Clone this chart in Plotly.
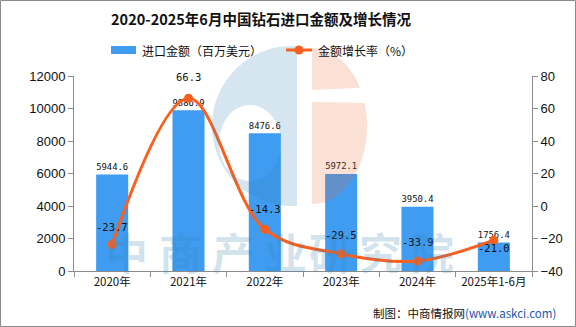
import numpy as np
import plotly.graph_objects as go

# ---- data ----
categories = ["2020年", "2021年", "2022年", "2023年", "2024年", "2025年1-6月"]
import_value = [5944.6, 9886.9, 8476.6, 5972.1, 3950.4, 1756.4]   # 百万美元
growth_rate = [-23.7, 66.3, -14.3, -29.5, -33.9, -21.0]           # %

# ---- layout geometry (pixels) ----
W, H = 576, 327
ML, MR, MT, MB = 74, 44, 76, 56
PW, PH = W - ML - MR, H - MT - MB

BAR_COLOR = "#3F9CF1"
LINE_COLOR = "#FA5F1E"
AXIS_COLOR = "#8C8C8C"
CJK = "Noto Sans CJK SC"


def px(x):
    return (x - ML) / PW


def py(y):
    return (H - MB - y) / PH


def path_from(points):
    pts = [f"{px(x):.5f},{py(y):.5f}" for x, y in points]
    return "M" + " L".join(pts) + " Z"


fig = go.Figure()

fig.add_trace(go.Bar(
    x=categories, y=import_value, name="进口金额（百万美元）",
    marker=dict(color=BAR_COLOR, line=dict(width=0)),
    texttemplate="%{y:.1f}", textposition="outside", cliponaxis=False,
    textfont=dict(family="DejaVu Sans Mono", size=10.5, color="#111"),
    yaxis="y", showlegend=False,
))

fig.add_trace(go.Scatter(
    x=categories, y=growth_rate, name="金额增长率（%）",
    mode="lines+markers",
    line=dict(color=LINE_COLOR, width=3, shape="spline", smoothing=1.0),
    marker=dict(color=LINE_COLOR, size=9),
    yaxis="y2", showlegend=False, cliponaxis=False,
))

# growth-rate labels, offset from their markers
label_shift = [18, 21, 20, 19, 19, -8]
annotations = []
for c, v, s in zip(categories, growth_rate, label_shift):
    annotations.append(dict(
        x=c, y=v, xref="x", yref="y2", yshift=s, text=f"{v:.1f}",
        showarrow=False, font=dict(family="DejaVu Sans Mono", size=10.5, color="#111"),
    ))

# watermark text
wm_chars = "中商产业研究院"
wm_x = [126, 180, 233, 285, 330, 380, 432]
for ch, x in zip(wm_chars, wm_x):
    annotations.append(dict(
        x=px(x), y=py(251), xref="paper", yref="paper", text=f"<b>{ch}</b>",
        showarrow=False, xanchor="center", yanchor="middle",
        font=dict(family=CJK, size=43, color="rgba(50,130,180,0.22)"),
    ))

# legend
annotations.append(dict(
    x=px(140), y=py(50), xref="paper", yref="paper", text="进口金额（百万美元）",
    showarrow=False, xanchor="left", yanchor="middle",
    font=dict(family=CJK, size=12, color="#111"),
))
annotations.append(dict(
    x=px(316), y=py(50), xref="paper", yref="paper", text="金额增长率（%）",
    showarrow=False, xanchor="left", yanchor="middle",
    font=dict(family=CJK, size=12, color="#111"),
))

# footer
annotations.append(dict(
    x=px(558), y=py(313), xref="paper", yref="paper",
    text="制图：中商情报网<span style='color:#1F56A8'>(www.askci.com)</span>",
    showarrow=False, xanchor="right", yanchor="middle",
    font=dict(family=CJK, size=11.5, color="#111"),
))

shapes = []

# logo watermark: blue "C"
cx, cy, r = 292, 126, 80
t0 = np.degrees(np.arccos(5 / r))
ts = np.radians(np.linspace(t0, 360 - t0, 80))
outer = [(cx + r * np.cos(t), cy - r * np.sin(t)) for t in ts]
ex, ey, rx, ry = 250, 143, 31, 38
tt = np.radians(np.linspace(0, 360, 60))
inner = [(ex + rx * np.cos(t), ey + ry * np.sin(t)) for t in tt]
shapes.append(dict(
    type="path", xref="paper", yref="paper", layer="above",
    path=path_from(outer) + " " + path_from(inner),
    fillcolor="rgba(50,130,180,0.2)", line=dict(width=0),
))

# logo watermark: salmon half-disc split by a thin gap
sx, sy, srx, sry = 312, 126, 55, 78
tt = np.radians(np.linspace(-90, 90, 90))
ell = [(sx + srx * np.cos(t), sy + sry * np.sin(t)) for t in tt]
upper = [(sx, 48)] + [p for p in ell if p[1] <= 90] + [(sx, 90)]
lower = [(sx, 102)] + [p for p in ell if p[1] >= 102] + [(sx, 204)]
for part in (upper, lower):
    shapes.append(dict(
        type="path", xref="paper", yref="paper", layer="above",
        path=path_from(part),
        fillcolor="rgba(235,100,50,0.2)", line=dict(width=0),
    ))

# legend symbols
shapes.append(dict(type="rect", xref="paper", yref="paper",
                   x0=px(111), x1=px(136), y0=py(54), y1=py(46),
                   fillcolor=BAR_COLOR, line=dict(width=0)))
shapes.append(dict(type="line", xref="paper", yref="paper",
                   x0=px(286), x1=px(312), y0=py(50), y1=py(50),
                   line=dict(color=LINE_COLOR, width=3)))
shapes.append(dict(type="circle", xref="paper", yref="paper",
                   x0=px(294.5), x1=px(303.5), y0=py(54.5), y1=py(45.5),
                   fillcolor=LINE_COLOR, line=dict(width=0)))

# outer frame
shapes.append(dict(type="rect", xref="paper", yref="paper",
                   x0=px(0.5), x1=px(W - 0.5), y0=py(H - 0.5), y1=py(0.5),
                   line=dict(color="#8A8A8A", width=1), fillcolor="rgba(0,0,0,0)"))

axis_font = dict(family="Liberation Sans", size=13, color="#111")

fig.update_layout(
    width=W, height=H,
    margin=dict(l=ML, r=MR, t=MT, b=MB),
    paper_bgcolor="white", plot_bgcolor="white",
    title=dict(
        text="<b>2020-2025年6月中国钻石进口金额及增长情况</b>",
        x=261 / W, xanchor="center", y=1 - 20 / H, yanchor="middle",
        font=dict(family=CJK, size=14.5, color="#111"),
    ),
    bargap=0.58,
    xaxis=dict(
        type="category", showline=True, linecolor=AXIS_COLOR, linewidth=1,
        ticks="outside", tickson="boundaries", ticklen=5, tickcolor=AXIS_COLOR,
        showgrid=False, tickfont=dict(family=CJK, size=11.5, color="#111"),
    ),
    yaxis=dict(
        range=[0, 12000], dtick=2000, showline=True, linecolor=AXIS_COLOR,
        ticks="outside", ticklen=5, tickcolor=AXIS_COLOR, showgrid=False,
        zeroline=False, tickfont=axis_font, tickformat="d",
    ),
    yaxis2=dict(
        range=[-40, 80], dtick=20, overlaying="y", side="right",
        showline=True, linecolor=AXIS_COLOR, ticks="outside", ticklen=5,
        tickcolor=AXIS_COLOR, showgrid=False, zeroline=False, tickfont=axis_font,
    ),
    annotations=annotations,
    shapes=shapes,
    showlegend=False,
)

fig.write_html("out.html")
